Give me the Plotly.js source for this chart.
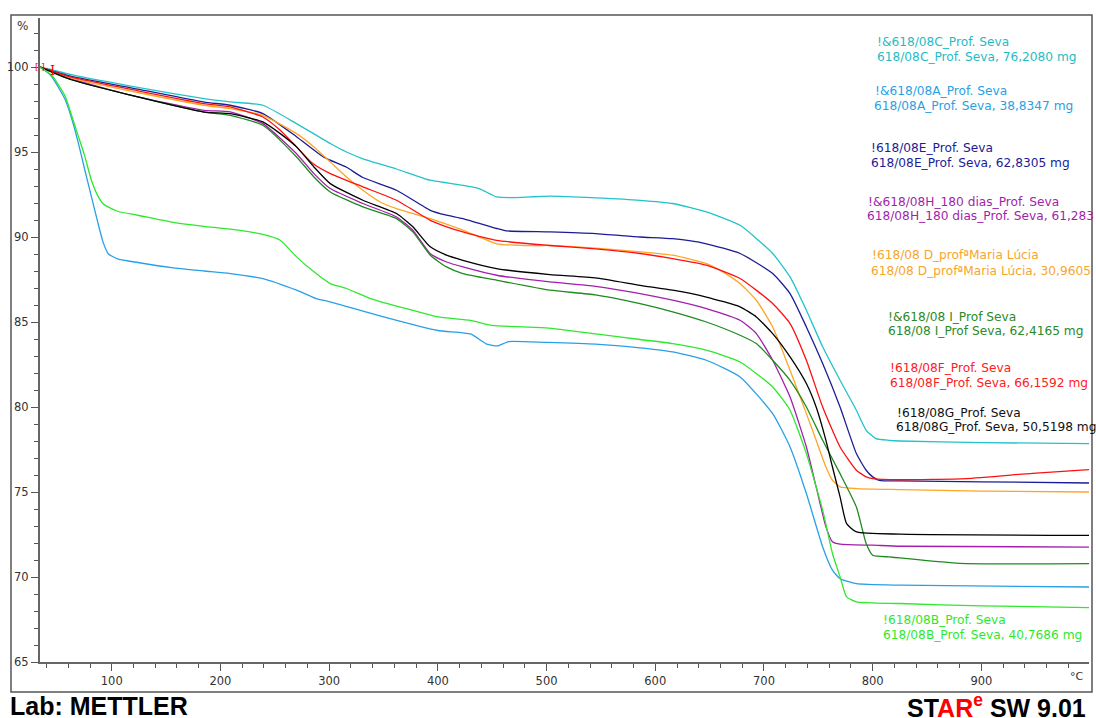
<!DOCTYPE html>
<html>
<head>
<meta charset="utf-8">
<script src="https://cdn.plot.ly/plotly-3.0.1.min.js"></script>
<style>html,body{margin:0;padding:0;background:#fff;}#chart{width:1096px;height:718px;}</style>
</head>
<body>
<div id="chart"></div>
<script>
// ---- data (temperature °C, mass %) ----
const T_C = [34, 63, 124, 185, 209, 239, 270, 301, 316, 331, 362, 393, 423, 438, 454, 470, 485, 503, 545, 586, 616, 647, 678, 708, 724, 739, 754, 770, 785, 794, 803, 815, 825, 900, 1000];
const W_C = [100, 99.55, 98.8, 98.14, 97.95, 97.75, 96.67, 95.5, 95.0, 94.6, 94.0, 93.34, 93.04, 92.85, 92.36, 92.32, 92.36, 92.4, 92.3, 92.16, 91.97, 91.48, 90.69, 89.03, 87.65, 85.69, 83.54, 81.57, 79.81, 78.63, 78.14, 78.04, 78.0, 77.9, 77.85];

const T_A = [34, 44, 57, 63, 69, 75, 81, 87, 92, 97, 106, 124, 155, 185, 209, 239, 270, 288, 300, 350, 400, 430, 445, 455, 465, 500, 545, 586, 616, 647, 678, 708, 724, 739, 754, 763, 770, 785, 825, 1000];
const W_A = [100, 99.5, 98.1, 97.0, 95.6, 94.0, 92.45, 90.9, 89.7, 89.0, 88.7, 88.5, 88.2, 88.0, 87.85, 87.55, 86.87, 86.38, 86.2, 85.3, 84.5, 84.3, 83.7, 83.6, 83.85, 83.8, 83.7, 83.48, 83.24, 82.75, 81.77, 79.61, 77.65, 74.91, 71.77, 70.4, 69.9, 69.61, 69.52, 69.41];

const T_E = [34, 63, 124, 185, 209, 239, 270, 295, 316, 331, 362, 393, 408, 423, 454, 463, 503, 545, 586, 616, 647, 678, 708, 724, 739, 754, 770, 785, 794, 800, 806, 825, 900, 1000];
const W_E = [100, 99.45, 98.7, 97.94, 97.75, 97.26, 95.9, 94.7, 94.1, 93.5, 92.75, 91.57, 91.28, 91.08, 90.5, 90.36, 90.3, 90.2, 90.0, 89.9, 89.6, 89.03, 87.85, 86.67, 84.71, 82.56, 80.0, 77.26, 76.28, 75.89, 75.69, 75.65, 75.6, 75.53];

const T_H = [34, 63, 124, 185, 209, 239, 270, 286, 301, 331, 362, 377, 393, 408, 423, 454, 503, 545, 586, 616, 647, 678, 693, 708, 724, 739, 748, 757, 763, 770, 800, 825, 1000];
const W_H = [100, 99.3, 98.24, 97.45, 97.36, 96.67, 94.9, 93.73, 92.85, 91.97, 91.18, 90.4, 89.02, 88.53, 88.24, 87.75, 87.36, 87.1, 86.67, 86.28, 85.79, 85.1, 84.32, 82.75, 80.59, 77.65, 75.3, 72.95, 72.07, 71.93, 71.87, 71.81, 71.76];

const T_D = [34, 63, 124, 185, 209, 239, 270, 286, 301, 316, 331, 347, 362, 393, 423, 454, 478, 493, 503, 545, 586, 616, 647, 662, 678, 693, 708, 724, 739, 748, 757, 763, 770, 785, 825, 900, 1000];
const W_D = [100, 99.35, 98.5, 97.75, 97.55, 97.16, 96.08, 95.3, 94.42, 93.53, 92.75, 92.06, 91.67, 91.08, 90.4, 89.6, 89.5, 89.5, 89.5, 89.35, 89.13, 88.93, 88.44, 87.95, 87.26, 86.28, 84.71, 82.16, 79.61, 78.04, 76.47, 75.69, 75.3, 75.2, 75.14, 75.05, 75.0];

const T_I = [34, 63, 124, 185, 209, 239, 270, 286, 301, 331, 362, 377, 393, 408, 423, 454, 503, 545, 586, 616, 647, 678, 693, 708, 724, 739, 754, 770, 785, 794, 800, 815, 825, 880, 1000];
const W_I = [100, 99.25, 98.24, 97.35, 97.16, 96.57, 94.71, 93.53, 92.65, 91.77, 91.08, 90.3, 88.93, 88.24, 87.85, 87.46, 86.87, 86.6, 86.08, 85.6, 85.0, 84.22, 83.73, 82.75, 81.57, 80.0, 78.04, 76.08, 74.12, 71.97, 71.28, 71.18, 71.12, 70.8, 70.79];

const T_F = [34, 63, 124, 185, 209, 239, 255, 270, 285, 301, 331, 362, 393, 408, 423, 454, 503, 545, 586, 616, 647, 678, 708, 724, 739, 754, 770, 785, 794, 800, 825, 886, 947, 1000];
const W_F = [100, 99.4, 98.6, 97.85, 97.65, 97.06, 96.28, 95.3, 94.32, 93.73, 92.95, 92.16, 90.98, 90.6, 90.3, 89.8, 89.5, 89.3, 89.03, 88.73, 88.34, 87.56, 86.09, 84.91, 82.75, 80.0, 77.65, 76.28, 75.89, 75.79, 75.72, 75.79, 76.1, 76.32];

const T_G = [34, 63, 124, 185, 209, 239, 255, 270, 286, 301, 331, 362, 377, 393, 408, 423, 454, 503, 545, 586, 616, 647, 678, 693, 708, 724, 739, 748, 757, 763, 770, 776, 785, 825, 1000];
const W_G = [100, 99.25, 98.24, 97.35, 97.26, 96.77, 96.08, 95.3, 94.12, 93.14, 92.16, 91.38, 90.6, 89.42, 88.93, 88.63, 88.14, 87.79, 87.6, 87.16, 86.87, 86.47, 85.89, 85.3, 84.32, 82.95, 81.38, 80.0, 78.04, 76.47, 74.71, 73.14, 72.65, 72.52, 72.45];

const T_B = [34, 45, 57, 63, 69, 75, 81, 87, 92, 97, 106, 124, 155, 185, 209, 239, 255, 270, 286, 301, 316, 338, 370, 400, 430, 450, 500, 545, 586, 616, 647, 678, 708, 724, 739, 754, 763, 770, 776, 785, 825, 900, 1000];
const W_B = [100, 99.5, 98.3, 97.16, 95.98, 94.8, 93.4, 92.45, 91.96, 91.76, 91.5, 91.28, 90.88, 90.63, 90.46, 90.16, 89.81, 88.83, 87.95, 87.26, 86.97, 86.38, 85.8, 85.3, 85.1, 84.8, 84.65, 84.3, 83.97, 83.73, 83.34, 82.65, 81.18, 79.81, 77.26, 73.93, 71.38, 70.0, 68.83, 68.54, 68.44, 68.3, 68.2];

const labelsTop = ["!&618/08C_Prof. Seva", "!&618/08A_Prof. Seva", "!618/08E_Prof. Seva", "!&618/08H_180 dias_Prof. Seva", "!618/08 D_prof\u00aaMaria L\u00facia", "!&618/08 I_Prof Seva", "!618/08F_Prof. Seva", "!618/08G_Prof. Seva", "!618/08B_Prof. Seva"];
const labelsBottom = ["618/08C_Prof. Seva, 76,2080 mg", "618/08A_Prof. Seva, 38,8347 mg", "618/08E_Prof. Seva, 62,8305 mg", "618/08H_180 dias_Prof. Seva, 61,283", "618/08 D_prof\u00aaMaria L\u00facia, 30,9605", "618/08 I_Prof Seva, 62,4165 mg", "618/08F_Prof. Seva, 66,1592 mg", "618/08G_Prof. Seva, 50,5198 mg", "618/08B_Prof. Seva, 40,7686 mg"];
const yTicks = [65, 70, 75, 80, 85, 90, 95, 100];
const xTicks = [100, 200, 300, 400, 500, 600, 700, 800, 900];

// ---- styling / layout ----
const series = [
  {t: T_C, w: W_C, color: '#22c3c8'},
  {t: T_A, w: W_A, color: '#28a0e6'},
  {t: T_E, w: W_E, color: '#1c1c96'},
  {t: T_H, w: W_H, color: '#a21fab'},
  {t: T_D, w: W_D, color: '#ffa524'},
  {t: T_I, w: W_I, color: '#1f8a1f'},
  {t: T_F, w: W_F, color: '#ff1010'},
  {t: T_G, w: W_G, color: '#000000'},
  {t: T_B, w: W_B, color: '#2ee82e'}
];
const textColors = ['#1fbcc4', '#2a9fe4', '#1c1c96', '#a21fab', '#f7a52a', '#2a8a2a', '#ff2020', '#111111', '#2ee82e'];
// label pixel positions: [x1, y1, x2, y2]
const labelPos = [
  [876, 42, 876, 57], [874, 91, 873, 106], [870, 148, 870, 163], [867, 202, 866, 216],
  [871, 255, 870, 271], [887, 317, 887, 331], [889, 368, 889, 383], [896, 413, 895, 427],
  [882, 620, 882, 635]
];

const W = 1096, H = 718, ML = 40, MR = 7, MT = 18, MB = 56;
const pw = W - ML - MR, ph = H - MT - MB;
const px = x => (x - ML) / pw;
const py = y => (H - MB - y) / ph;

const traces = series.map(s => ({
  x: s.t, y: s.w, type: 'scatter', mode: 'lines',
  line: {color: s.color, width: 1.3, shape: 'spline', smoothing: 0.5},
  hoverinfo: 'skip', showlegend: false
}));

const annFont = {family: 'DejaVu Sans, Verdana, sans-serif', size: 12.2};
const annotations = [];
labelsTop.forEach((txt, i) => {
  const p = labelPos[i];
  annotations.push({xref: 'paper', yref: 'paper', x: px(p[0]), y: py(p[1]), text: txt, showarrow: false,
    xanchor: 'left', yanchor: 'middle', font: Object.assign({}, annFont, {color: textColors[i]}), borderpad: 0});
  annotations.push({xref: 'paper', yref: 'paper', x: px(p[2]), y: py(p[3]), text: labelsBottom[i], showarrow: false,
    xanchor: 'left', yanchor: 'middle', font: Object.assign({}, annFont, {color: textColors[i]}), borderpad: 0});
});
annotations.push({xref: 'paper', yref: 'paper', x: px(22), y: py(26), text: '%', showarrow: false,
  xanchor: 'center', yanchor: 'middle', font: {family: 'DejaVu Sans, sans-serif', size: 12, color: '#333'}});
annotations.push({xref: 'paper', yref: 'paper', x: px(1077), y: py(676), text: '\u00b0C', showarrow: false,
  xanchor: 'center', yanchor: 'middle', font: {family: 'DejaVu Sans, sans-serif', size: 11, color: '#333'}});
annotations.push({xref: 'paper', yref: 'paper', x: px(9), y: py(705.5), text: '<b>Lab: METTLER</b>', showarrow: false,
  xanchor: 'left', yanchor: 'middle', borderpad: 0, font: {family: 'Liberation Sans, Arial, sans-serif', size: 25, color: '#000'}});
annotations.push({xref: 'paper', yref: 'paper', x: px(1087), y: py(705.5),
  text: '<b>ST<span style="color:#ff0000">AR</span><sup><span style="color:#ff0000">e</span></sup> SW 9.01</b>', showarrow: false,
  xanchor: 'right', yanchor: 'middle', borderpad: 0, font: {family: 'Liberation Sans, Arial, sans-serif', size: 25, color: '#000'}});
annotations.push({xref: 'paper', yref: 'paper', x: px(40), y: py(67), text: '[ ]', showarrow: false,
  xanchor: 'center', yanchor: 'middle', font: {family: 'DejaVu Sans, sans-serif', size: 9, color: '#ff0000'}});
annotations.push({xref: 'paper', yref: 'paper', x: px(52), y: py(70), text: 'I', showarrow: false,
  xanchor: 'center', yanchor: 'middle', font: {family: 'DejaVu Serif, serif', size: 13, color: '#ff0000'}});

const layout = {
  width: W, height: H,
  margin: {l: ML, r: MR, t: MT, b: MB, pad: 0},
  paper_bgcolor: '#ffffff', plot_bgcolor: '#ffffff',
  showlegend: false,
  xaxis: {
    range: [34, 999], showgrid: false, zeroline: false,
    showline: true, linecolor: '#666', linewidth: 2,
    tickmode: 'array', tickvals: xTicks, ticktext: xTicks.map(String),
    ticks: 'outside', ticklen: 7, tickwidth: 1, tickcolor: '#555',
    tickfont: {family: 'DejaVu Sans, Verdana, sans-serif', size: 11.5, color: '#333'},
    minor: {tickmode: 'linear', tick0: 0, dtick: 20, ticks: 'outside', ticklen: 4, tickwidth: 1, tickcolor: '#555', showgrid: false}
  },
  yaxis: {
    range: [65, 65 + ph / 17], showgrid: false, zeroline: false,
    showline: true, linecolor: '#666', linewidth: 2,
    tickmode: 'array', tickvals: yTicks, ticktext: yTicks.map(String),
    ticks: 'outside', ticklen: 7, tickwidth: 1, tickcolor: '#555',
    tickfont: {family: 'DejaVu Sans, Verdana, sans-serif', size: 11.5, color: '#333'},
    minor: {tickmode: 'linear', tick0: 0, dtick: 1, ticks: 'outside', ticklen: 4, tickwidth: 1, tickcolor: '#555', showgrid: false}
  },
  shapes: [{type: 'rect', xref: 'paper', yref: 'paper', x0: px(11), x1: px(1092), y0: py(692), y1: py(15),
    line: {color: '#555', width: 1.5}, fillcolor: 'rgba(0,0,0,0)', layer: 'below'}],
  annotations: annotations
};

Plotly.newPlot('chart', traces, layout, {staticPlot: true, displayModeBar: false});
</script>
</body>
</html>
